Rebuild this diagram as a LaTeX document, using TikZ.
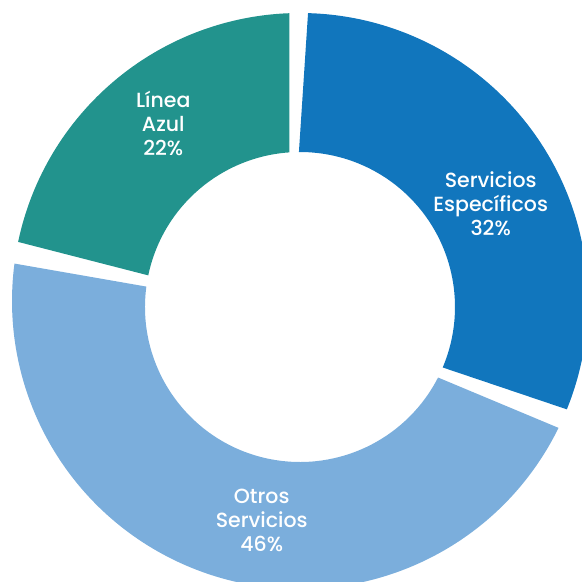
\documentclass[tikz,border=0pt]{standalone}
\usepackage{fontspec}
\newfontfamily\labelfont{Poppins Medium}
\definecolor{tealseg}{RGB}{34,147,141}
\definecolor{blueseg}{RGB}{17,118,189}
\definecolor{lightseg}{RGB}{123,174,220}
\begin{document}
\begin{tikzpicture}[x=1pt,y=-1pt,
  seglabel/.style={text=white, font=\labelfont\fontsize{20.5}{24}\selectfont, align=center, inner sep=0pt}]
\useasboundingbox (0,0) rectangle (582,582);
\clip (0,0) rectangle (582,582);
\coordinate (oc) at (300,301);
\coordinate (ic) at (300,307);
% Servicios Especificos
\fill[blueseg] ([shift={(ic)}]-90.4:155) -- ([shift={(oc)}]-88.4:288)
  arc[start angle=-88.4, end angle=22.1, radius=288]
  -- ([shift={(ic)}]22.96:155)
  arc[start angle=22.96, end angle=-90.4, radius=155] -- cycle;
% Otros Servicios
\fill[lightseg] ([shift={(ic)}]27.06:155) -- ([shift={(oc)}]26.14:288)
  arc[start angle=26.14, end angle=187.47, radius=288]
  -- ([shift={(ic)}]187.57:155)
  arc[start angle=187.57, end angle=27.06, radius=155] -- cycle;
% Linea Azul
\fill[tealseg] ([shift={(ic)}]191.78:155) -- ([shift={(oc)}]191.84:288)
  arc[start angle=191.84, end angle=267.9, radius=288]
  -- ([shift={(ic)}]266.1:155)
  arc[start angle=266.1, end angle=191.78, radius=155] -- cycle;
\node[seglabel] (la) at (163.3,123.6) {Línea\\Azul\\22\%};
\node[seglabel] (se) at (490.7,204) {Servicios\\Específicos\\32\%};
\node[seglabel] (os) at (261.7,520.4) {Otros\\Servicios\\46\%};
\end{tikzpicture}
\end{document}
